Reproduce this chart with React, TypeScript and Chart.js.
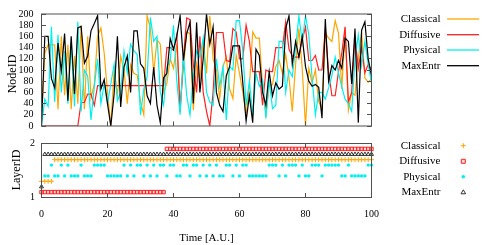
import React, { useEffect, useRef } from 'react';
import { Chart, registerables } from 'chart.js';

Chart.register(...registerables);

const seriesNames = ['Classical', 'Diffusive', 'Physical', 'MaxEntr'];
const seriesColors = ['#ffa500', '#ff2020', '#00f0f0', '#000000'];
const timeTicks = [0, 20, 40, 60, 80, 100];
const nodeTicks = [0, 20, 40, 60, 80, 100, 120, 140, 160, 180, 200];
const layerTicks = [1, 2];

// NodeID per time step (t = 0 .. 100)
const classicalNode = [
  15, 130, 145, 145, 145, 30, 160, 55, 145, 30, 125, 40, 180, 30, 160, 50, 75, 160, 175, 130, 60,
  0, 100, 55, 125, 100, 40, 110, 94, 91, 43, 20, 197, 174, 95, 154, 146, 60, 77, 120, 103, 146, 37, 103, 168, 165, 28, 111, 83, 151,
  94, 197, 120, 100, 49, 106, 123, 66, 49, 126, 94, 60, 20, 71, 168, 157, 157, 71, 20, 71, 74, 106, 117, 94, 128,
  86, 26, 110, 174, 103, 0, 103, 77, 100, 43, 31, 166, 157, 151, 188, 166, 66, 174, 28, 60, 55, 120, 168, 86, 78, 85,
];
const diffusiveNode = [
  0, 0, 0, 0, 0, 0, 0, 0, 0, 0, 0, 0,
  42, 42, 57, 57, 37, 72,
  72, 72, 72, 72, 72, 72, 72, 72, 72, 72, 72, 72, 72, 72, 72, 72, 72, 72, 72, 72,
  140, 140, 135, 163, 25, 120, 193, 190, 110, 60, 160, 60, 26,
  0, 60, 167, 167, 167, 117, 115, 174, 168, 120, 120, 180, 151, 97, 97, 97, 37, 100, 97, 97, 140, 140, 140, 186,
  137, 125, 123, 123, 154, 177, 117, 117, 126, 100, 100, 174, 97, 54, 54, 97, 130, 177, 43, 60, 160, 103, 140, 95, 110, 100,
];
const physicalNode = [
  0, 48, 35, 177, 43, 163, 60, 134, 40, 150, 35, 186, 26, 100, 89, 11, 70, 120, 40, 75,
  40, 75, 110, 45, 60, 134, 95, 146, 134, 128, 20, 66, 88, 194, 151, 160, 60, 37, 106, 117, 180, 80, 20, 128, 54, 20, 88, 134, 123, 157,
  60, 43, 37, 120, 71, 106, 11, 106, 100, 188, 188, 134, 37, 80, 20, 94, 71, 83, 14, 83, 31, 37, 151, 151, 60,
  100, 88, 140, 197, 150, 197, 163, 86, 20, 60, 60, 48, 68, 90, 123, 95, 70, 48, 40, 26, 120, 163, 108, 151, 110, 77,
];
const maxEntrNode = [
  0, 160, 160, 85, 68, 148, 98, 165, 45, 160, 57, 175, 178, 112, 125, 170, 183, 197, 66, 83, 40, 0,
  57, 160, 34, 105, 125, 60, 170, 170, 111, 103, 54, 40, 105, 37, 6, 86, 94, 156, 137, 160, 197, 117,
  165, 185, 40, 185, 60, 120, 200, 146, 177, 60, 37, 26, 90, 106, 143, 143, 143, 77, 9, 54, 6, 137, 126, 60, 37, 97, 54, 77, 66, 71, 174,
  197, 110, 151, 123, 160, 106, 80, 71, 74, 69, 14, 191, 80, 108, 100, 117, 103, 157, 151, 75, 174, 6, 171, 186, 120, 90,
];

// LayerID per time step (t = 0 .. 100)
const classicalLayer = [
  1.3, 1.3, 1.3, 1.3, 1.7, 1.7, 1.7, 1.7, 1.7, 1.7,
  1.7, 1.7, 1.7, 1.7, 1.7, 1.7, 1.7, 1.7, 1.7, 1.7,
  1.7, 1.7, 1.7, 1.7, 1.7, 1.7, 1.7, 1.7, 1.7, 1.7,
  1.7, 1.7, 1.7, 1.7, 1.7, 1.7, 1.7, 1.7, 1.7, 1.7,
  1.7, 1.7, 1.7, 1.7, 1.7, 1.7, 1.7, 1.7, 1.7, 1.7,
  1.7, 1.7, 1.7, 1.7, 1.7, 1.7, 1.7, 1.7, 1.7, 1.7,
  1.7, 1.7, 1.7, 1.7, 1.7, 1.7, 1.7, 1.7, 1.7, 1.7,
  1.7, 1.7, 1.7, 1.7, 1.7, 1.7, 1.7, 1.7, 1.7, 1.7,
  1.7, 1.7, 1.7, 1.7, 1.7, 1.7, 1.7, 1.7, 1.7, 1.7,
  1.7, 1.7, 1.7, 1.7, 1.7, 1.7, 1.7, 1.7, 1.7, 1.7,
  1.7,
];
const diffusiveLayer = [
  1.1, 1.1, 1.1, 1.1, 1.1, 1.1, 1.1, 1.1, 1.1, 1.1,
  1.1, 1.1, 1.1, 1.1, 1.1, 1.1, 1.1, 1.1, 1.1, 1.1,
  1.1, 1.1, 1.1, 1.1, 1.1, 1.1, 1.1, 1.1, 1.1, 1.1,
  1.1, 1.1, 1.1, 1.1, 1.1, 1.1, 1.1, 1.1, 1.9, 1.9,
  1.9, 1.9, 1.9, 1.9, 1.9, 1.9, 1.9, 1.9, 1.9, 1.9,
  1.9, 1.9, 1.9, 1.9, 1.9, 1.9, 1.9, 1.9, 1.9, 1.9,
  1.9, 1.9, 1.9, 1.9, 1.9, 1.9, 1.9, 1.9, 1.9, 1.9,
  1.9, 1.9, 1.9, 1.9, 1.9, 1.9, 1.9, 1.9, 1.9, 1.9,
  1.9, 1.9, 1.9, 1.9, 1.9, 1.9, 1.9, 1.9, 1.9, 1.9,
  1.9, 1.9, 1.9, 1.9, 1.9, 1.9, 1.9, 1.9, 1.9, 1.9,
  1.9,
];
const physicalLayer = [
  null, 1.4, 1.4, 1.6, 1.4, 1.4, 1.6, 1.4, 1.6, 1.4,
  1.4, 1.4, 1.6, 1.4, 1.4, 1.4, 1.6, 1.6, 1.6, 1.6,
  1.4, 1.4, 1.4, 1.4, 1.4, 1.6, 1.4, 1.6, 1.4, 1.6,
  1.6, 1.4, 1.6, 1.4, 1.6, 1.4, 1.6, 1.6, 1.4, 1.6,
  1.6, 1.4, 1.4, 1.6, 1.6, 1.4, 1.6, 1.6, 1.4, 1.6,
  1.4, 1.6, 1.4, 1.6, 1.4, 1.4, 1.6, 1.6, 1.4, 1.6,
  1.4, 1.6, 1.6, 1.4, 1.4, 1.4, 1.4, 1.4, 1.4, 1.6,
  1.6, 1.6, 1.4, 1.6, 1.4, 1.6, 1.6, 1.6, 1.4, 1.6,
  1.4, 1.4, 1.6, 1.6, 1.6, 1.4, 1.6, 1.6, 1.6, 1.6,
  1.6, 1.4, 1.4, 1.6, 1.4, 1.4, 1.4, 1.4, 1.4, 1.6,
  1.6,
];
const maxEntrLayer = [
  1.2, 1.8, 1.8, 1.8, 1.8, 1.8, 1.8, 1.8, 1.8, 1.8,
  1.8, 1.8, 1.8, 1.8, 1.8, 1.8, 1.8, 1.8, 1.8, 1.8,
  1.8, 1.8, 1.8, 1.8, 1.8, 1.8, 1.8, 1.8, 1.8, 1.8,
  1.8, 1.8, 1.8, 1.8, 1.8, 1.8, 1.8, 1.8, 1.8, 1.8,
  1.8, 1.8, 1.8, 1.8, 1.8, 1.8, 1.8, 1.8, 1.8, 1.8,
  1.8, 1.8, 1.8, 1.8, 1.8, 1.8, 1.8, 1.8, 1.8, 1.8,
  1.8, 1.8, 1.8, 1.8, 1.8, 1.8, 1.8, 1.8, 1.8, 1.8,
  1.8, 1.8, 1.8, 1.8, 1.8, 1.8, 1.8, 1.8, 1.8, 1.8,
  1.8, 1.8, 1.8, 1.8, 1.8, 1.8, 1.8, 1.8, 1.8, 1.8,
  1.8, 1.8, 1.8, 1.8, 1.8, 1.8, 1.8, 1.8, 1.8, 1.8,
  1.8,
];

const FONT = "'Liberation Serif', 'Times New Roman', 'DejaVu Serif', serif";
const FRAME = '#505050';

const toPoints = (vals: (number | null)[]) => vals.map((v, i) => ({ x: i, y: v }));

function drawMarker(ctx: CanvasRenderingContext2D, i: number, x: number, y: number) {
  ctx.save();
  ctx.lineWidth = 1;
  ctx.strokeStyle = seriesColors[i];
  ctx.fillStyle = seriesColors[i];
  ctx.beginPath();
  if (i === 0) {
    ctx.moveTo(x - 2.5, y); ctx.lineTo(x + 2.5, y);
    ctx.moveTo(x, y - 2.5); ctx.lineTo(x, y + 2.5);
    ctx.stroke();
  } else if (i === 1) {
    ctx.fillStyle = 'rgba(255,0,0,0.15)';
    ctx.rect(x - 2, y - 2, 4, 4);
    ctx.fill(); ctx.stroke();
  } else if (i === 2) {
    ctx.arc(x, y, 1.8, 0, Math.PI * 2);
    ctx.fill();
  } else {
    ctx.strokeStyle = '#333';
    ctx.moveTo(x, y - 2.5); ctx.lineTo(x + 2.3, y + 1.5); ctx.lineTo(x - 2.3, y + 1.5); ctx.closePath();
    ctx.stroke();
  }
  ctx.restore();
}

type FrameOpts = {
  id: string;
  yTicks: number[];
  title: string;
  titleX: number;
  titleY: number;
  legendY: number[];
  lines: boolean;
};

function framePlugin(o: FrameOpts) {
  return {
    id: o.id,
    afterDatasetsDraw(chart: any) {
      const { ctx, chartArea: a } = chart;
      const xs = chart.scales.x;
      const ys = chart.scales.y;
      ctx.save();
      ctx.strokeStyle = FRAME;
      ctx.lineWidth = 1;
      ctx.strokeRect(a.left, a.top, a.right - a.left, a.bottom - a.top);
      ctx.beginPath();
      const L = 4.5;
      timeTicks.forEach((v) => {
        const p = Math.round(xs.getPixelForValue(v) - 0.5) + 0.5;
        ctx.moveTo(p, a.bottom); ctx.lineTo(p, a.bottom - L);
        ctx.moveTo(p, a.top); ctx.lineTo(p, a.top + L);
      });
      o.yTicks.forEach((v) => {
        const p = Math.round(ys.getPixelForValue(v) - 0.5) + 0.5;
        ctx.moveTo(a.left, p); ctx.lineTo(a.left + L, p);
        ctx.moveTo(a.right, p); ctx.lineTo(a.right - L, p);
      });
      ctx.stroke();
      ctx.fillStyle = '#000';
      ctx.font = `12px ${FONT}`;
      ctx.textAlign = 'center';
      ctx.textBaseline = 'middle';
      ctx.translate(o.titleX, o.titleY);
      ctx.rotate(-Math.PI / 2);
      ctx.fillText(o.title, 0, 0);
      ctx.restore();

      ctx.save();
      ctx.font = `11px ${FONT}`;
      ctx.textAlign = 'right';
      ctx.textBaseline = 'middle';
      ctx.fillStyle = '#000';
      seriesNames.forEach((name, i) => {
        const y = o.legendY[i];
        ctx.fillText(name, 440.5, y);
        if (o.lines) {
          ctx.save();
          ctx.strokeStyle = seriesColors[i];
          ctx.lineWidth = 1.3;
          ctx.beginPath();
          ctx.moveTo(447, y); ctx.lineTo(479, y);
          ctx.stroke();
          ctx.restore();
        } else {
          drawMarker(ctx, i, 463.3, y);
        }
      });
      ctx.restore();
    },
  };
}

const tickFont = { family: FONT, size: 10 };

export default function App() {
  const topRef = useRef<HTMLCanvasElement>(null);
  const botRef = useRef<HTMLCanvasElement>(null);

  useEffect(() => {
    const nodeSeries = [classicalNode, diffusiveNode, physicalNode, maxEntrNode];
    const top = new Chart(topRef.current as HTMLCanvasElement, {
      type: 'line',
      data: {
        datasets: nodeSeries.map((vals, i) => ({
          label: seriesNames[i],
          data: toPoints(vals),
          borderColor: seriesColors[i],
          backgroundColor: seriesColors[i],
          borderWidth: 1.2,
          pointRadius: 0,
          tension: 0,
          fill: false,
          order: 4 - i,
        })),
      },
      options: {
        animation: false,
        responsive: false,
        maintainAspectRatio: false,
        events: [],
        layout: { padding: { top: 10.5, right: 119.5, left: 0, bottom: 0 } },
        plugins: { legend: { display: false }, tooltip: { enabled: false } },
        scales: {
          x: {
            type: 'linear', min: 0, max: 100,
            grid: { display: false, drawTicks: false }, border: { display: false },
            ticks: { display: false },
            afterFit: (s: any) => { s.height = 13.5; },
          },
          y: {
            min: 0, max: 200,
            grid: { display: false, drawTicks: false }, border: { display: false },
            ticks: { stepSize: 20, autoSkip: false, font: tickFont, color: '#000', padding: 8 },
            afterFit: (s: any) => { s.width = 41.5; },
          },
        },
      } as any,
      plugins: [framePlugin({ id: 'frameTop', yTicks: nodeTicks, title: 'NodeID', titleX: 12.5, titleY: 74, legendY: [19, 34.7, 50, 65.7], lines: true })],
    });

    const layerSeries = [classicalLayer, diffusiveLayer, physicalLayer, maxEntrLayer];
    const pointStyles = ['cross', 'rect', 'circle', 'triangle'];
    const radii = [2.5, 2.4, 1.7, 2.3];
    const fills = ['#ffa500', 'rgba(255,0,0,0.15)', '#00f0f0', 'rgba(0,0,0,0)'];
    const borders = ['#ffa500', '#ff2020', '#00f0f0', '#333333'];
    const bottom = new Chart(botRef.current as HTMLCanvasElement, {
      type: 'scatter',
      data: {
        datasets: layerSeries.map((vals, i) => ({
          label: seriesNames[i],
          data: toPoints(vals),
          pointStyle: pointStyles[i],
          pointRadius: radii[i],
          pointBorderWidth: i === 2 ? 0 : 1,
          pointBackgroundColor: fills[i],
          pointBorderColor: borders[i],
          borderColor: borders[i],
          backgroundColor: fills[i],
          showLine: false,
          clip: false,
          order: 4 - i,
        })),
      },
      options: {
        animation: false,
        responsive: false,
        maintainAspectRatio: false,
        events: [],
        layout: { padding: { top: 9.5, right: 119.5, left: 0, bottom: 0 } },
        plugins: { legend: { display: false }, tooltip: { enabled: false } },
        scales: {
          x: {
            type: 'linear', min: 0, max: 100,
            grid: { display: false, drawTicks: false }, border: { display: false },
            ticks: { stepSize: 20, autoSkip: false, font: tickFont, color: '#000', padding: 11, maxRotation: 0 },
            title: { display: true, text: 'Time [A.U.]', font: { family: FONT, size: 11 }, color: '#000', padding: 0 },
            afterFit: (s: any) => { s.height = 47.5; },
          },
          y: {
            min: 1, max: 2,
            grid: { display: false, drawTicks: false }, border: { display: false },
            ticks: { stepSize: 1, autoSkip: false, font: tickFont, color: '#000', padding: 6.5 },
            afterFit: (s: any) => { s.width = 41.5; },
          },
        },
      } as any,
      plugins: [framePlugin({ id: 'frameBottom', yTicks: layerTicks, title: 'LayerID', titleX: 17, titleY: 39, legendY: [14.7, 30.3, 45.7, 61.3], lines: false })],
    });

    return () => {
      top.destroy();
      bottom.destroy();
    };
  }, []);

  return (
    <div style={{ position: 'fixed', left: 0, top: 0, width: 491, height: 245, background: '#fff', overflow: 'hidden' }}>
      <canvas ref={topRef} width={491} height={140} style={{ position: 'absolute', left: 0, top: 0, width: 491, height: 140 }} />
      <canvas ref={botRef} width={491} height={114} style={{ position: 'absolute', left: 0, top: 131, width: 491, height: 114 }} />
    </div>
  );
}
